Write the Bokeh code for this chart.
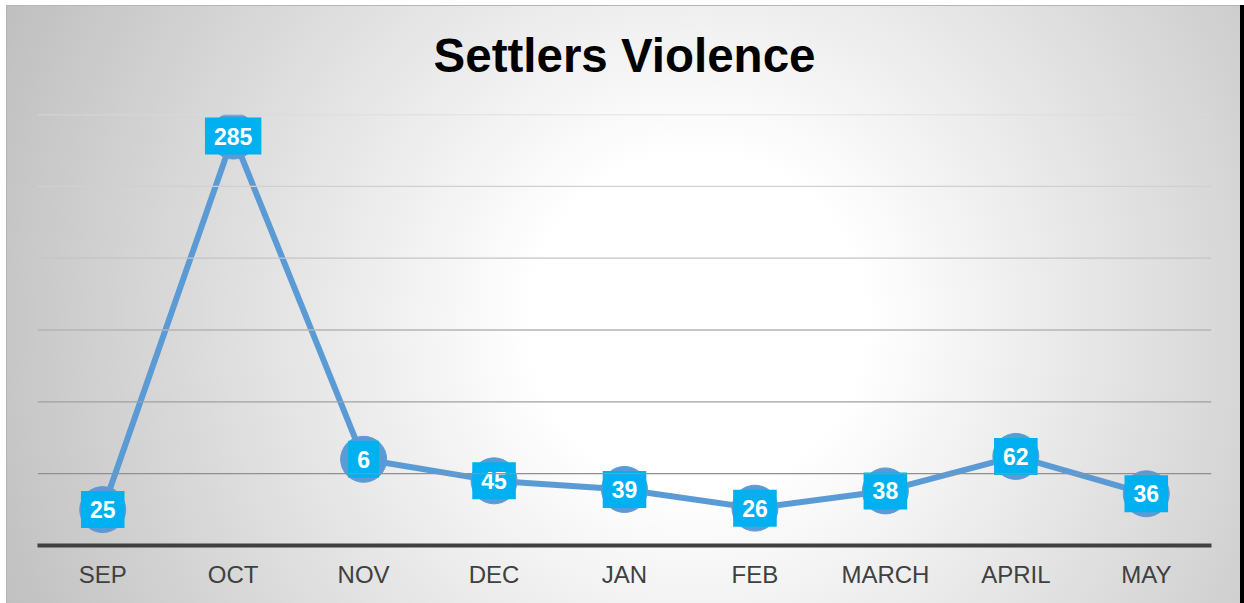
from bokeh.plotting import figure
from bokeh.models import Range1d, FactorRange, Span, Title
from bokeh.core.properties import value
from bokeh.embed import file_html
from bokeh.resources import INLINE

months = ["SEP", "OCT", "NOV", "DEC", "JAN", "FEB", "MARCH", "APRIL", "MAY"]
values = [25, 285, 60, 45, 39, 26, 38, 62, 36]
labels = ["25", "285", "6", "45", "39", "26", "38", "62", "36"]
grid_ticks = [50, 100, 150, 200, 250, 300]
grid_colors = ["#909090", "#a0a0a0", "#b4b4b4", "#c4c4c4", "#d0d0d0", "#dadada"]
title_text = "Settlers Violence"

FONT = "Liberation Sans"

p = figure(width=1234, height=598, output_backend="svg", toolbar_location=None,
           x_range=FactorRange(factors=months), y_range=Range1d(0, 300),
           min_border_left=31, min_border_right=29, min_border_top=109, min_border_bottom=58)

p.background_fill_color = None
p.border_fill_color = None
p.outline_line_color = None
p.styles = {
    "margin-left": "6px",
    "margin-top": "5px",
    "background": "radial-gradient(circle farthest-corner at 56% 53%, #ffffff 0%, #ffffff 22%, #bfbfbf 100%)",
    "box-shadow": "inset 1px 1px 0 #b5b5b5, 4px 0 0 #000000",
}

# spacer between the title and the plot area, then the title itself
p.add_layout(Title(text=" ", text_font_size="1px", standoff=9), "above")
p.add_layout(Title(text=title_text, align="center", text_font=FONT, text_font_size="47.5px",
                   text_font_style="bold", text_color="#000000", standoff=42), "above")

p.xgrid.visible = False
p.ygrid.visible = False
p.yaxis.visible = False

for t, c in zip(grid_ticks, grid_colors):
    p.add_layout(Span(location=t, dimension="width", line_color=c, line_width=1.3))

ax = p.xaxis[0]
ax.axis_line_color = "#404040"
ax.axis_line_width = 4
ax.major_tick_line_color = None
ax.minor_tick_line_color = None
ax.major_label_text_font = FONT
ax.major_label_text_font_size = "24px"
ax.major_label_text_color = "#404040"
ax.major_label_standoff = 9

p.line(x=months, y=values, line_color="#5B9BD5", line_width=6)
p.scatter(x=months, y=values, size=46, fill_color="#5B9BD5", line_color="#5B9BD5", line_width=1)
p.text(x=months, y=values, text=labels, text_align="center", text_baseline="middle",
       text_font=value(FONT), text_font_size="23px", text_font_style="bold", text_color="#ffffff",
       background_fill_color="#00B0F0", padding=dict(left=9, right=9, top=10, bottom=10))

open("out.html", "w").write(file_html(p, INLINE))
